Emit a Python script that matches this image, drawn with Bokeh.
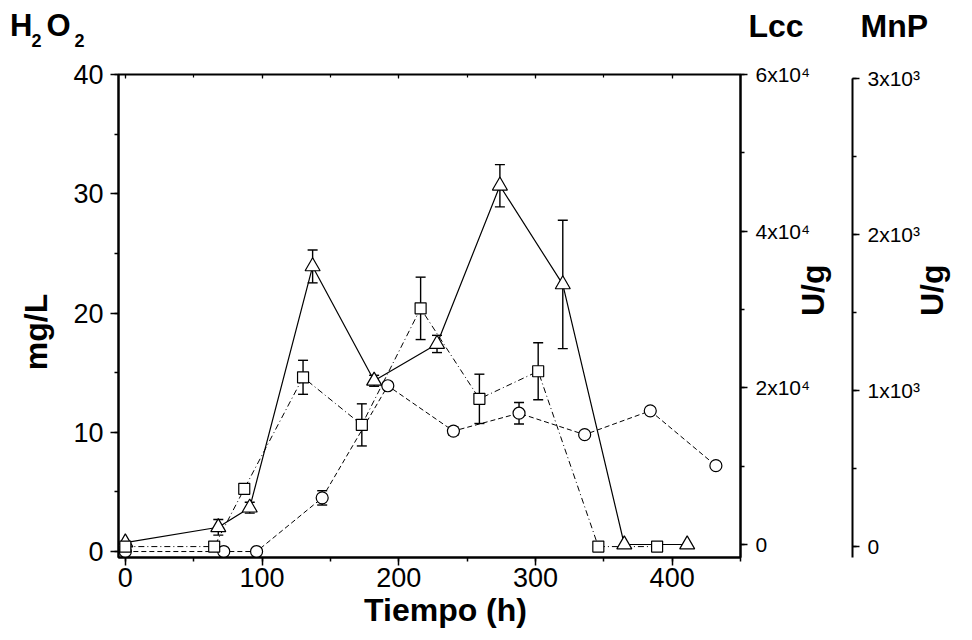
import math
from bokeh.plotting import figure
from bokeh.layouts import column
from bokeh.models import (Range1d, LinearAxis, SingleIntervalTicker, FixedTicker, Whisker,
                          TeeHead, ColumnDataSource, CustomJSTickFormatter)
from bokeh.embed import file_html
from bokeh.resources import INLINE

FONT = "Liberation Sans"

# ---------------- data ----------------
# H2O2 (mg/L), open circles, dashed line
t_h2o2 = [0, 72, 96, 144, 192, 240, 288, 336, 384, 432]
h2o2 = [0, 0, 0, 4.5, 13.9, 10.1, 11.6, 9.8, 11.8, 7.2]
h2o2_err = [0, 0, 0, 0.6, 0.3, 0.35, 0.9, 0.2, 0.25, 0]

# Lcc (U/g), open triangles, solid line
t_lcc = [0, 68, 91, 137, 182, 228, 274, 320, 365, 411]
lcc = [250, 2200, 4700, 35500, 20900, 25600, 45800, 33200, 0, 0]
lcc_err = [0, 1000, 700, 2100, 700, 1100, 2700, 8200, 0, 0]

# MnP (U/g), open squares, dash-dot line
t_mnp = [0, 65, 87, 130, 173, 216, 259, 302, 346, 389]
mnp = [0, 0, 370, 1085, 780, 1527, 947, 1124, 0, 0]
mnp_err = [0, 0, 15, 109, 135, 200, 158, 183, 0, 0]

x_ticks_interval = 100
h_ticks_interval = 10
lcc_ticks_interval = 20000
mnp_ticks_interval = 1000

X_RANGE = (-5, 450)
H_RANGE = (-0.5, 40)
LCC_RANGE = (-1660, 60000)
MNP_RANGE = (-70, 3026)

HEADER_H = 50
BORDER_L, BORDER_R = 118, 232

# ---------------- header: series titles as axis labels ----------------
hdr = figure(width=972, height=HEADER_H, output_backend="svg", toolbar_location=None,
             x_range=Range1d(0, 1), y_range=Range1d(0, 1),
             x_axis_location=None, y_axis_location=None,
             min_border_left=BORDER_L, min_border_right=BORDER_R,
             min_border_top=0, min_border_bottom=0)
hdr.outline_line_color = None
hdr.xgrid.visible = False
hdr.ygrid.visible = False
hdr.background_fill_color = "white"
hdr.border_fill_color = "white"


def header_label(text, standoff, side, size="31px", line_height=1.2):
    ax = LinearAxis(ticker=FixedTicker(ticks=[], minor_ticks=[]),
                    axis_line_color=None, major_tick_line_color=None, minor_tick_line_color=None,
                    major_tick_out=0, minor_tick_out=0, major_tick_in=0, minor_tick_in=0,
                    major_label_standoff=0, axis_label=text, axis_label_standoff=standoff,
                    axis_label_orientation="horizontal", axis_label_text_font=FONT,
                    axis_label_text_font_size=size, axis_label_text_font_style="bold",
                    axis_label_text_color="black", axis_label_text_line_height=line_height)
    hdr.add_layout(ax, side)


# H2O2 built right-to-left (the first left axis sits next to the frame)
header_label("\n2", 34, "left", "18px", 1.5)
header_label("O", 1, "left", "31px")
header_label("\n2", 2, "left", "18px", 1.5)
header_label("H", -4, "left", "31px")
header_label("Lcc", 8, "right", "32px")
header_label("MnP", 54, "right", "32px")

# ---------------- main figure ----------------
p = figure(width=972, height=640 - HEADER_H, output_backend="svg", toolbar_location=None,
           x_range=Range1d(*X_RANGE), y_range=Range1d(*H_RANGE),
           min_border_left=BORDER_L, min_border_right=BORDER_R, min_border_top=74 - HEADER_H,
           min_border_bottom=83)
p.extra_y_ranges = {"lcc": Range1d(*LCC_RANGE), "mnp": Range1d(*MNP_RANGE)}
p.xgrid.visible = False
p.ygrid.visible = False
p.outline_line_color = "black"
p.outline_line_width = 2
p.background_fill_color = "white"
p.border_fill_color = "white"


def style_axis(ax, label_size):
    ax.axis_line_color = "black"
    ax.axis_line_width = 2
    ax.major_tick_line_color = "black"
    ax.minor_tick_line_color = "black"
    ax.major_tick_line_width = 1.5
    ax.minor_tick_line_width = 1.5
    ax.major_tick_in = 0
    ax.major_tick_out = 8
    ax.minor_tick_in = 0
    ax.minor_tick_out = 4
    ax.major_label_text_font = FONT
    ax.major_label_text_font_size = label_size
    ax.major_label_text_color = "black"
    ax.axis_label_text_font = FONT
    ax.axis_label_text_font_size = "32px"
    ax.axis_label_text_font_style = "bold"
    ax.axis_label_text_color = "black"


xa = p.xaxis[0]
xa.ticker = SingleIntervalTicker(interval=x_ticks_interval, num_minor_ticks=2)
style_axis(xa, "27px")
xa.major_label_standoff = 2
xa.axis_label = "\u2003Tiempo (h)"
xa.axis_label_standoff = 2

ya = p.yaxis[0]
ya.ticker = SingleIntervalTicker(interval=h_ticks_interval, num_minor_ticks=2)
style_axis(ya, "27px")
ya.major_label_standoff = 7
ya.axis_label = "mg/L\u2003"
ya.axis_label_standoff = 16

lcc_axis = LinearAxis(y_range_name="lcc",
                      ticker=SingleIntervalTicker(interval=lcc_ticks_interval, num_minor_ticks=2),
                      formatter=CustomJSTickFormatter(code="return tick == 0 ? '0' : (tick/10000) + 'x10\u2074'"))
style_axis(lcc_axis, "21px")
lcc_axis.major_tick_out = 7
lcc_axis.major_label_standoff = 8
lcc_axis.axis_label = "U/g"
lcc_axis.axis_label_standoff = 0
lcc_axis.axis_label_orientation = math.pi / 2

mnp_axis = LinearAxis(y_range_name="mnp", bounds=(-70, 3000),
                      ticker=SingleIntervalTicker(interval=mnp_ticks_interval, num_minor_ticks=2),
                      formatter=CustomJSTickFormatter(code="return tick == 0 ? '0' : (tick/1000) + 'x10\u00b3'"))
style_axis(mnp_axis, "21px")
mnp_axis.major_tick_out = 7
mnp_axis.major_label_standoff = 8
mnp_axis.axis_label = "U/g"
mnp_axis.axis_label_standoff = 9
mnp_axis.axis_label_orientation = math.pi / 2

p.add_layout(lcc_axis, "right")
p.add_layout(mnp_axis, "right")

top_axis = LinearAxis(ticker=SingleIntervalTicker(interval=x_ticks_interval, num_minor_ticks=2),
                      formatter=CustomJSTickFormatter(code="return ''"),
                      axis_line_color=None, major_tick_in=4, major_tick_out=0,
                      minor_tick_in=3, minor_tick_out=0, major_label_standoff=0,
                      major_label_text_font_size="4px",
                      major_tick_line_color="black", minor_tick_line_color="black",
                      major_tick_line_width=1.2, minor_tick_line_width=1.2)
p.add_layout(top_axis, "above")

# ---------------- series ----------------
def whisk(t, y, e, rng):
    tt = [a for a, b in zip(t, e) if b > 0]
    up = [v + b for v, b in zip(y, e) if b > 0]
    lo = [v - b for v, b in zip(y, e) if b > 0]
    src = ColumnDataSource(dict(t=tt, up=up, lo=lo))
    w = Whisker(source=src, base="t", upper="up", lower="lo", dimension="height",
                line_color="black", line_width=1.4,
                upper_head=TeeHead(size=10, line_color="black", line_width=1.4),
                lower_head=TeeHead(size=10, line_color="black", line_width=1.4))
    if rng:
        w.y_range_name = rng
    p.add_layout(w)

p.line(t_h2o2, h2o2, line_color="black", line_width=1, line_dash="5 3")
p.line(t_lcc, lcc, line_color="black", line_width=1.2, y_range_name="lcc")
p.line(t_mnp, mnp, line_color="black", line_width=1, line_dash="6 3 1 3", y_range_name="mnp")

whisk(t_h2o2, h2o2, h2o2_err, None)
whisk(t_lcc, lcc, lcc_err, "lcc")
whisk(t_mnp, mnp, mnp_err, "mnp")

p.scatter(t_h2o2, h2o2, marker="circle", size=12, fill_color="white", line_color="black", line_width=1.2)
p.scatter(t_lcc, lcc, marker="triangle", size=15, fill_color="white", line_color="black",
          line_width=1.2, y_range_name="lcc")
p.scatter(t_mnp, mnp, marker="square", size=11, fill_color="white", line_color="black",
          line_width=1.2, y_range_name="mnp")

layout = column(hdr, p, spacing=0)
open("out.html", "w").write(file_html(layout, INLINE))
